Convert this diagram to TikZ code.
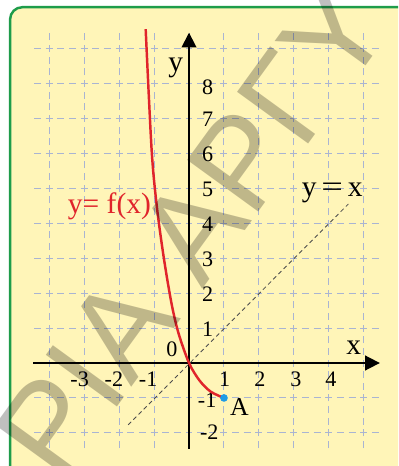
\documentclass[tikz,border=0pt]{standalone}
\usepackage{fontspec}
\setmainfont{Liberation Serif}
\newfontfamily\wmfont{Liberation Sans}
\usetikzlibrary{arrows.meta,positioning}
\definecolor{paper}{HTML}{FFF5B8}
\definecolor{framegreen}{HTML}{1E9C4A}
\definecolor{gridblue}{HTML}{A9B4D2}
\definecolor{curvered}{HTML}{E0242B}
\definecolor{dotblue}{HTML}{1E9BE6}

\begin{document}
\begin{tikzpicture}[
    gridline/.style={gridblue,line width=0.8pt,dash pattern=on 0.2cm off 0.1333cm,dash phase=0.2667cm},
    axis/.style={line width=1.4pt,-{Triangle[length=0.42cm,width=0.42cm]}},
    ticklbl/.style={font=\fontsize{18}{18}\selectfont,inner sep=0pt},
    axlbl/.style={font=\fontsize{24}{24}\selectfont,inner sep=0pt,anchor=base},
    fcurve/.style={curvered,line width=2pt},
    diag/.style={black!70,line width=0.7pt,dash pattern=on 0.12cm off 0.09cm},
    dotA/.style={circle,fill=dotblue,inner sep=0pt,minimum size=0.22cm},
    watermark/.style={font=\wmfont\fontsize{104}{104}\selectfont,inner sep=0pt,
      anchor=base west,rotate=54,opacity=0.25}]
  \useasboundingbox (-5.408,-2.947) rectangle (5.98,10.386);
  \clip (-5.408,-2.947) rectangle (5.98,10.386);
  \fill[white] (-5.408,-2.947) rectangle (5.98,10.386);
  \draw[framegreen,line width=2pt,fill=paper,rounded corners=0.35cm] (-5.12,10.18) rectangle (7,-4);

  \foreach \i in {-4,...,5}
    \draw[gridline] (\i,-2.5) -- (\i,9.5);
  \foreach \j in {-2,...,9}
    \draw[gridline] (-4.5,\j) -- (5.5,\j);

  \coordinate (xs) at (-4.45,0);
  \coordinate (xe) at (5.46,0);
  \coordinate (ys) at (0,-2.45);
  \coordinate (ye) at (0,9.45);
  \draw[axis] (xs) -- (xe);
  \draw[axis] (ys) -- (ye);

  \coordinate (ds) at (-1.74,-1.77);
  \coordinate (de) at (4.56,4.55);
  \draw[diag] (ds) -- (de);

  \node[axlbl] (ylbl) at (-0.38,8.33) {y};
  \node[axlbl] (xlbl) at (4.71,0.23) {x};
  \node[ticklbl,anchor=base] (orig) at (-0.49,0.2) {0};

  \foreach \k in {1,...,7}
    \node[ticklbl] (yt\k) at (0.53,\k-0.03) {\k};
  \node[ticklbl] (yt8) at (0.53,7.88) {8};
  \node[ticklbl] (ytm1) at (0.52,-1.06) {-1};
  \node[ticklbl] (ytm2) at (0.58,-1.97) {-2};

  \foreach \k/\xp in {-3/-3.13,-2/-2.15,-1/-1.17,1/1.02,2/2.03,3/3.06,4/4.06}
    \node[ticklbl] (xt\k) at (\xp,-0.46) {\k};

  \draw[fcurve] plot[smooth] coordinates {(-1.24,9.55) (-1.07,6.1) (-0.92,4.47)
    (-0.72,3.0) (-0.5,1.7) (-0.3,0.85) (0,0) (0.3,-0.5) (0.62,-0.82) (1,-1)};
  \node[dotA] (ptA) at (1,-1) {};
  \node[axlbl,font=\fontsize{21}{21}\selectfont] (lblA) at (1.44,-1.49) {A};

  \node[axlbl,anchor=base west,text=curvered] (flbl) at (-3.47,4.28) {y= f(x)};
  \node[axlbl,anchor=base west] (dlbl) at (3.22,4.76) {y\,\scalebox{1.3}[1]{=}\,x};

  \node[watermark] (wm) at (-3.67,-3.50) {ΡΙΑ ΑΡΓΥ};
\end{tikzpicture}
\end{document}
